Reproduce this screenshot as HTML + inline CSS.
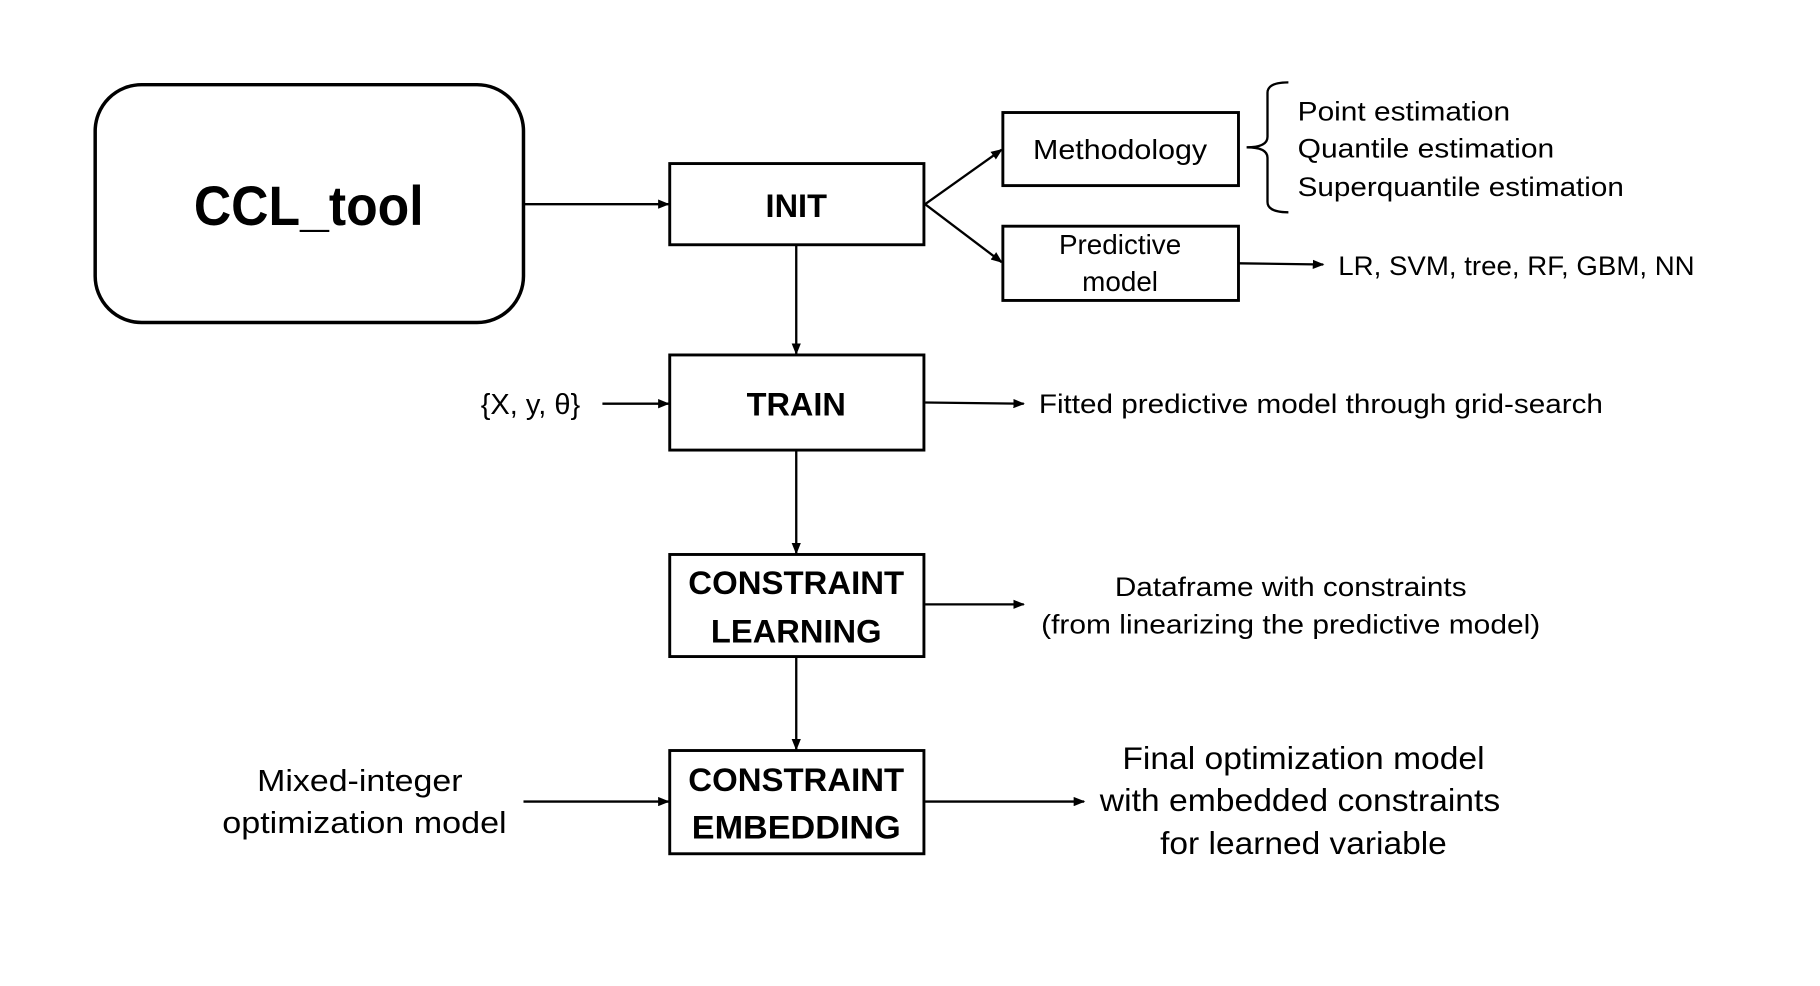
<!DOCTYPE html>
<html><head><style>html,body{margin:0;padding:0;background:#fff}svg{display:block}</style></head>
<body>
<svg width="1820" height="986" viewBox="0 0 1568 850" preserveAspectRatio="none" xmlns="http://www.w3.org/2000/svg" font-family="Liberation Sans, sans-serif">
<defs><marker id="a" markerWidth="10" markerHeight="8" refX="9" refY="4" orient="auto" markerUnits="userSpaceOnUse"><path d="M0,0 L10,4 L0,8 z" fill="#000"/></marker></defs>
<g fill="none" stroke="#000">
<rect x="82" y="73" width="369" height="205" rx="40" stroke-width="3"/>
<rect x="577" y="141" width="219" height="70" stroke-width="2.5"/>
<rect x="864" y="97" width="203" height="63" stroke-width="2.5"/>
<rect x="864" y="195" width="203" height="64" stroke-width="2.5"/>
<rect x="577" y="306" width="219" height="82" stroke-width="2.5"/>
<rect x="577" y="478" width="219" height="88" stroke-width="2.5"/>
<rect x="577" y="647" width="219" height="89" stroke-width="2.5"/>
<g stroke-width="2" marker-end="url(#a)">
<line x1="451" y1="176" x2="576" y2="176"/>
<line x1="797" y1="176" x2="863" y2="129"/>
<line x1="797" y1="176" x2="863" y2="226"/>
<line x1="1067" y1="227" x2="1140" y2="228"/>
<line x1="686" y1="211" x2="686" y2="305"/>
<line x1="519" y1="348" x2="576" y2="348"/>
<line x1="797" y1="347" x2="882" y2="348"/>
<line x1="686" y1="388" x2="686" y2="477"/>
<line x1="797" y1="521" x2="882" y2="521"/>
<line x1="686" y1="566" x2="686" y2="646"/>
<line x1="451" y1="691" x2="576" y2="691"/>
<line x1="797" y1="691" x2="934" y2="691"/>
</g>
<path d="M1110,71 Q1092,71 1092,80 L1092,118 Q1092,127 1074,127 Q1092,127 1092,136 L1092,174 Q1092,183 1110,183" stroke-width="2"/>
</g>
<g fill="#000" text-anchor="middle">
<text x="266" y="194" font-size="48" font-weight="bold" textLength="198" lengthAdjust="spacingAndGlyphs">CCL_tool</text>
<text x="686" y="187" font-size="28" font-weight="bold">INIT</text>
<text x="686" y="358" font-size="28" font-weight="bold">TRAIN</text>
<text x="686" y="512" font-size="28" font-weight="bold" textLength="186" lengthAdjust="spacingAndGlyphs">CONSTRAINT</text>
<text x="686" y="554" font-size="28" font-weight="bold" textLength="147" lengthAdjust="spacingAndGlyphs">LEARNING</text>
<text x="686" y="682" font-size="28" font-weight="bold" textLength="186" lengthAdjust="spacingAndGlyphs">CONSTRAINT</text>
<text x="686" y="723" font-size="28" font-weight="bold" textLength="180" lengthAdjust="spacingAndGlyphs">EMBEDDING</text>
<text x="965" y="137" font-size="24" textLength="150" lengthAdjust="spacingAndGlyphs">Methodology</text>
<text x="965" y="219" font-size="24">Predictive</text>
<text x="965" y="251" font-size="24">model</text>
<text x="457" y="357" font-size="25">{X, y, θ}</text>
<text x="1112" y="514" font-size="23" textLength="303" lengthAdjust="spacingAndGlyphs">Dataframe with constraints</text>
<text x="1112" y="546" font-size="23" textLength="430" lengthAdjust="spacingAndGlyphs">(from linearizing the predictive model)</text>
<text x="310" y="682" font-size="26" textLength="177" lengthAdjust="spacingAndGlyphs">Mixed-integer</text>
<text x="314" y="718" font-size="26" textLength="245" lengthAdjust="spacingAndGlyphs">optimization model</text>
<text x="1123" y="663" font-size="27" textLength="312" lengthAdjust="spacingAndGlyphs">Final optimization model</text>
<text x="1120" y="699" font-size="27" textLength="345" lengthAdjust="spacingAndGlyphs">with embedded constraints</text>
<text x="1123" y="736" font-size="27" textLength="247" lengthAdjust="spacingAndGlyphs">for learned variable</text>
</g>
<g fill="#000" font-size="23">
<text x="1118" y="104" textLength="183" lengthAdjust="spacingAndGlyphs">Point estimation</text>
<text x="1118" y="136" textLength="221" lengthAdjust="spacingAndGlyphs">Quantile estimation</text>
<text x="1118" y="169" textLength="281" lengthAdjust="spacingAndGlyphs">Superquantile estimation</text>
<text x="1153" y="237" textLength="307" lengthAdjust="spacingAndGlyphs">LR, SVM, tree, RF, GBM, NN</text>
<text x="895" y="356" textLength="486" lengthAdjust="spacingAndGlyphs">Fitted predictive model through grid-search</text>
</g>
</svg>
</body></html>
